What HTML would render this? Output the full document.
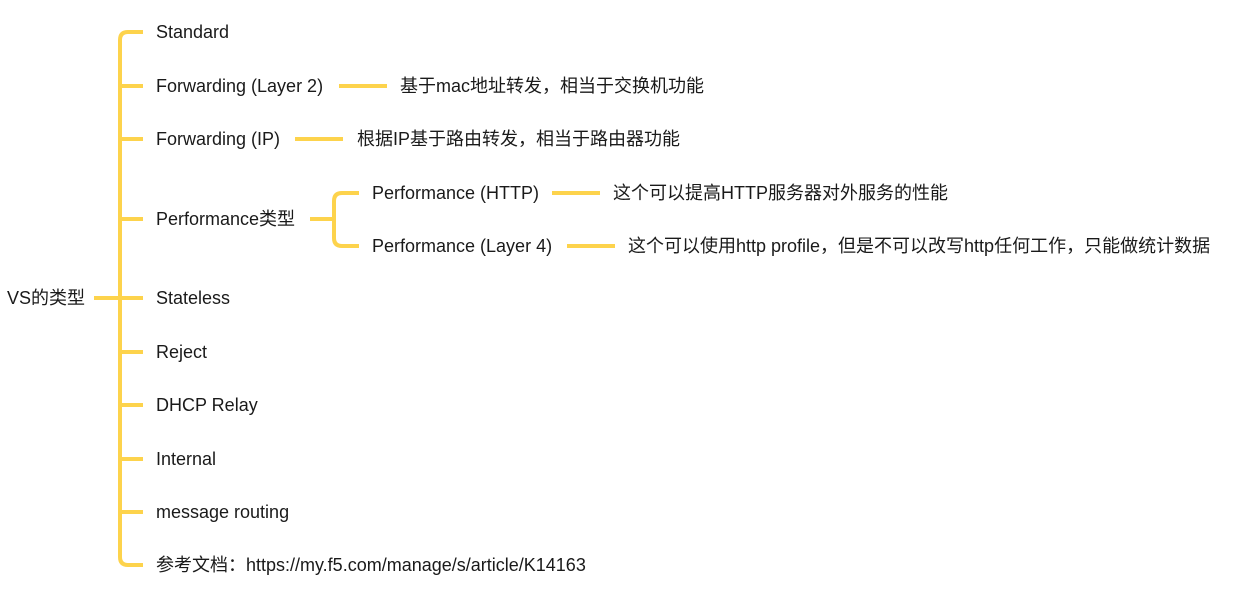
<!DOCTYPE html>
<html><head><meta charset="utf-8"><style>
html,body{margin:0;padding:0;background:#fff;}
svg{display:block}
text{font-family:"Liberation Sans","Noto Sans CJK SC",sans-serif;font-size:18px;fill:#1a1a1a;dominant-baseline:central}
</style></head><body>
<svg width="1236" height="594" viewBox="0 0 1236 594" xmlns="http://www.w3.org/2000/svg">
<g stroke="#FDD34C" stroke-width="4" fill="none" stroke-linecap="butt">
<path d="M143 32 H128 Q120 32 120 40 V557 Q120 565 128 565 H143"/>
<path d="M94 298 H143"/>
<path d="M120 86 H143 M120 139 H143 M120 219 H143 M120 352 H143 M120 405 H143 M120 459 H143 M120 512 H143"/>
<path d="M339 86 H387 M295 139 H343 M552 193 H600 M567 246 H615"/>
<path d="M310 219 H334"/>
<path d="M359 193 H342 Q334 193 334 201 V238 Q334 246 342 246 H359"/>
</g>
<text x="7" y="298">VS的类型</text>
<text x="156" y="32">Standard</text>
<text x="156" y="86">Forwarding (Layer 2)</text>
<text x="400" y="86">基于mac地址转发，相当于交换机功能</text>
<text x="156" y="139">Forwarding (IP)</text>
<text x="357" y="139">根据IP基于路由转发，相当于路由器功能</text>
<text x="156" y="219">Performance类型</text>
<text x="372" y="193">Performance (HTTP)</text>
<text x="613" y="193">这个可以提高HTTP服务器对外服务的性能</text>
<text x="372" y="246">Performance (Layer 4)</text>
<text x="628" y="246">这个可以使用http profile，但是不可以改写http任何工作，只能做统计数据</text>
<text x="156" y="298">Stateless</text>
<text x="156" y="352">Reject</text>
<text x="156" y="405">DHCP Relay</text>
<text x="156" y="459">Internal</text>
<text x="156" y="512">message routing</text>
<text x="156" y="565">参考文档：https://my.f5.com/manage/s/article/K14163</text>
</svg>
</body></html>
